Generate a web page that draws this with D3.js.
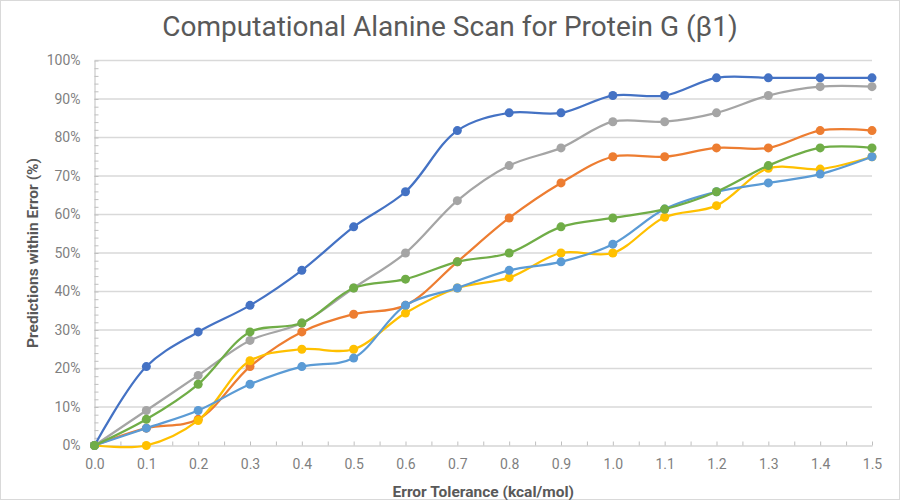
<!DOCTYPE html>
<html>
<head>
<meta charset="utf-8">
<script src="https://cdn.jsdelivr.net/npm/d3@7/dist/d3.min.js"></script>
<style>
  html, body { margin: 0; padding: 0; background: #ffffff; }
  svg { display: block; }
</style>
</head>
<body>
<script>
// ---- Data ----
const xValues = [0.0, 0.1, 0.2, 0.3, 0.4, 0.5, 0.6, 0.7, 0.8, 0.9, 1.0, 1.1, 1.2, 1.3, 1.4, 1.5];
const xTickLabels = ["0.0","0.1","0.2","0.3","0.4","0.5","0.6","0.7","0.8","0.9","1.0","1.1","1.2","1.3","1.4","1.5"];
const yTickValues = [0, 10, 20, 30, 40, 50, 60, 70, 80, 90, 100];

const seriesBlue      = [0, 20.5, 29.5, 36.4, 45.5, 56.8, 65.9, 81.8, 86.4, 86.4, 90.9, 90.9, 95.5, 95.5, 95.5, 95.5];
const seriesOrange    = [0, 4.5, 6.8, 20.5, 29.5, 34.1, 36.4, 47.7, 59.1, 68.2, 75.0, 75.0, 77.3, 77.3, 81.8, 81.8];
const seriesGray      = [0, 9.1, 18.2, 27.3, 31.8, 40.9, 50.0, 63.6, 72.7, 77.3, 84.1, 84.1, 86.4, 90.9, 93.2, 93.2];
const seriesYellow    = [0, 0, 6.5, 22.0, 25.0, 25.0, 34.4, 40.9, 43.6, 50.0, 50.0, 59.3, 62.3, 72.0, 71.8, 75.0];
const seriesLightBlue = [0, 4.5, 9.1, 15.9, 20.5, 22.7, 36.4, 40.9, 45.5, 47.7, 52.3, 61.4, 65.9, 68.2, 70.5, 75.0];
const seriesGreen     = [0, 6.8, 15.9, 29.5, 31.8, 40.9, 43.2, 47.7, 50.0, 56.8, 59.1, 61.4, 65.9, 72.7, 77.3, 77.3];

const seriesList = [
  { values: seriesBlue,      color: "#4472C4" },
  { values: seriesOrange,    color: "#ED7D31" },
  { values: seriesGray,      color: "#A5A5A5" },
  { values: seriesYellow,    color: "#FFC000" },
  { values: seriesLightBlue, color: "#5B9BD5" },
  { values: seriesGreen,     color: "#70AD47" }
];

const titleText = "Computational Alanine Scan for Protein G (\u03B21)";
const xTitle = "Error Tolerance (kcal/mol)";
const yTitle = "Predictions within Error (%)";

// ---- Layout ----
const W = 900, H = 500;
const mLeft = 94.5, mRight = 872, mTop = 60.5, mBottom = 445.5;

const svg = d3.select("body").append("svg").attr("width", W).attr("height", H);

// outer frame
svg.append("rect").attr("x", 0.5).attr("y", 0.5).attr("width", W - 1).attr("height", H - 1)
  .attr("fill", "#ffffff").attr("stroke", "#d9d9d9").attr("stroke-width", 1);

const x = d3.scaleLinear().domain([0, 1.5]).range([mLeft, mRight]);
const y = d3.scaleLinear().domain([0, 100]).range([mBottom, mTop]);

const fontFamily = "Roboto, 'Noto Sans', 'DejaVu Sans', sans-serif";

// gridlines
svg.append("g")
  .selectAll("line").data(yTickValues.filter(v => v > 0)).join("line")
  .attr("x1", mLeft).attr("x2", mRight)
  .attr("y1", d => y(d)).attr("y2", d => y(d))
  .attr("stroke", "#d9d9d9").attr("stroke-width", 1.3);

// Y axis
const yAxis = d3.axisLeft(y).tickValues(yTickValues).tickFormat(d => d + "%").tickSize(0).tickPadding(14);
const gy = svg.append("g").attr("transform", `translate(${mLeft},0)`).call(yAxis);
gy.select(".domain").attr("stroke", "#bfbfbf").attr("stroke-width", 1);
gy.selectAll("text").attr("font-family", fontFamily).attr("font-size", 14).attr("fill", "#7f7f7f");

// Y minor ticks (inside)
const yMinor = d3.axisRight(y).tickValues(d3.range(0, 101, 2)).tickFormat("").tickSize(4);
const gym = svg.append("g").attr("transform", `translate(${mLeft},0)`).call(yMinor);
gym.select(".domain").remove();
gym.selectAll("line").attr("stroke", "#bfbfbf");

// X axis
const xAxis = d3.axisBottom(x).tickValues(xValues).tickFormat((d, i) => xTickLabels[i]).tickSize(0).tickPadding(14);
const gx = svg.append("g").attr("transform", `translate(0,${mBottom})`).call(xAxis);
gx.select(".domain").attr("stroke", "#bfbfbf").attr("stroke-width", 1);
gx.selectAll("text").attr("font-family", fontFamily).attr("font-size", 14).attr("fill", "#7f7f7f");

// X minor ticks (inside, upward)
const xMinor = d3.axisTop(x).tickValues(d3.range(0, 31).map(i => i * 0.05)).tickFormat("").tickSize(4);
const gxm = svg.append("g").attr("transform", `translate(0,${mBottom})`).call(xMinor);
gxm.select(".domain").remove();
gxm.selectAll("line").attr("stroke", "#bfbfbf");

// Lines
const line = d3.line()
  .x((d, i) => x(xValues[i]))
  .y(d => y(d))
  .curve(d3.curveCatmullRom.alpha(0.5));

const gs = svg.append("g");
seriesList.forEach(s => {
  const g = gs.append("g");
  g.append("path").datum(s.values)
    .attr("d", line)
    .attr("fill", "none")
    .attr("stroke", s.color)
    .attr("stroke-width", 2.25)
    .attr("stroke-linejoin", "round");
  g.selectAll("circle").data(s.values).join("circle")
    .attr("cx", (d, i) => x(xValues[i]))
    .attr("cy", d => y(d))
    .attr("r", 4.5)
    .attr("fill", s.color);
});

// Title
svg.append("text")
  .attr("x", W / 2).attr("y", 36)
  .attr("text-anchor", "middle")
  .attr("font-family", fontFamily)
  .attr("font-size", 28)
  .attr("fill", "#595959")
  .text(titleText);

// Axis titles
svg.append("text")
  .attr("x", (mLeft + mRight) / 2).attr("y", 497)
  .attr("text-anchor", "middle")
  .attr("font-family", fontFamily)
  .attr("font-size", 15.5)
  .attr("font-weight", "bold")
  .attr("fill", "#595959")
  .text(xTitle);

svg.append("text")
  .attr("transform", `translate(38,${(mTop + mBottom) / 2}) rotate(-90)`)
  .attr("text-anchor", "middle")
  .attr("font-family", fontFamily)
  .attr("font-size", 15.5)
  .attr("font-weight", "bold")
  .attr("fill", "#595959")
  .text(yTitle);
</script>
</body>
</html>
